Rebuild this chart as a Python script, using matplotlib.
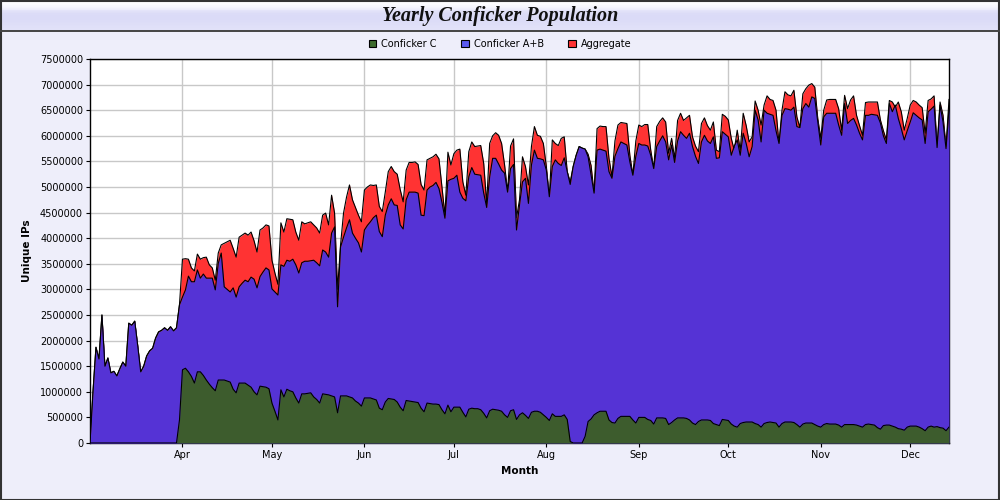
import numpy as np
import matplotlib
matplotlib.use("Agg")
import matplotlib.pyplot as plt
import matplotlib.dates as mdates
from matplotlib.patches import Patch, Rectangle
from matplotlib.ticker import MultipleLocator, FuncFormatter

# daily unique IPs (millions), starting 2009-03-01
start_date = "2009-03-01"

conficker_ab = [
    0.00, 1.00, 1.87, 1.64, 2.50, 1.50, 1.66, 1.37, 1.40, 1.31,
    1.45, 1.58, 1.50, 2.34, 2.30, 2.38, 1.90, 1.39, 1.50, 1.70,
    1.80, 1.85, 2.05, 2.17, 2.20, 2.25, 2.20, 2.27, 2.19, 2.25,
    2.70, 2.85, 2.99, 3.26, 3.15, 3.15, 3.38, 3.22, 3.30, 3.22,
    3.22, 3.22, 2.99, 3.51, 3.71, 3.05, 3.00, 2.95, 3.03, 2.85,
    3.05, 3.12, 3.18, 3.15, 3.24, 3.20, 3.03, 3.25, 3.34, 3.42,
    3.38, 3.01, 2.95, 2.89, 3.48, 3.45, 3.57, 3.55, 3.59, 3.48,
    3.32, 3.52, 3.55, 3.55, 3.56, 3.57, 3.52, 3.46, 3.77, 3.73,
    3.63, 4.10, 4.22, 2.66, 3.83, 4.02, 4.20, 4.36, 4.10, 4.00,
    3.91, 3.73, 4.16, 4.25, 4.32, 4.40, 4.45, 4.13, 4.03, 4.45,
    4.65, 4.77, 4.65, 4.64, 4.26, 4.18, 4.75, 4.90, 4.90, 4.90,
    4.88, 4.45, 4.44, 4.94, 5.00, 5.03, 5.09, 4.97, 4.70, 4.39,
    5.12, 5.15, 5.17, 5.23, 4.90, 4.78, 4.73, 5.20, 5.38, 5.25,
    5.24, 5.23, 4.88, 4.60, 5.20, 5.56, 5.56, 5.45, 5.33, 5.27,
    4.90, 5.36, 5.44, 4.16, 4.65, 5.10, 5.17, 4.68, 5.43, 5.72,
    5.56, 5.55, 5.53, 5.33, 4.81, 5.40, 5.53, 5.46, 5.42, 5.57,
    5.30, 5.05, 5.40, 5.62, 5.79, 5.76, 5.74, 5.59, 5.23, 4.88,
    5.72, 5.74, 5.72, 5.70, 5.30, 5.17, 5.60, 5.75, 5.88, 5.85,
    5.82, 5.49, 5.23, 5.60, 5.85, 5.82, 5.82, 5.80, 5.62, 5.36,
    5.79, 5.90, 6.00, 5.88, 5.53, 5.82, 5.48, 5.90, 6.08, 6.01,
    5.95, 6.05, 5.79, 5.60, 5.46, 5.88, 6.01, 5.90, 5.85, 5.98,
    5.56, 5.57, 6.08, 6.03, 5.98, 5.62, 5.80, 5.92, 5.62, 6.05,
    5.85, 5.59, 5.79, 6.50, 6.31, 5.88, 6.50, 6.44, 6.42, 6.40,
    6.10, 5.85, 6.40, 6.53, 6.52, 6.50, 6.56, 6.18, 6.16, 6.53,
    6.63, 6.56, 6.76, 6.73, 6.27, 5.82, 6.37, 6.44, 6.44, 6.44,
    6.44, 6.21, 6.01, 6.63, 6.24, 6.30, 6.34, 6.21, 6.05, 5.92,
    6.40, 6.40, 6.42, 6.41, 6.40, 6.25, 6.00, 5.85, 6.63, 6.47,
    6.60, 6.34, 6.14, 5.92, 6.10, 6.27, 6.45, 6.40, 6.35, 6.31,
    5.85, 6.47, 6.52, 6.58, 5.77, 6.60, 6.27, 5.75, 6.53,
]

aggregate = [
    0.00, 1.00, 1.87, 1.64, 2.50, 1.50, 1.66, 1.37, 1.40, 1.31,
    1.45, 1.58, 1.50, 2.34, 2.30, 2.38, 1.90, 1.39, 1.50, 1.70,
    1.80, 1.85, 2.05, 2.17, 2.20, 2.25, 2.20, 2.27, 2.19, 2.25,
    2.70, 3.59, 3.60, 3.59, 3.42, 3.36, 3.69, 3.59, 3.62, 3.63,
    3.48, 3.42, 3.18, 3.71, 3.87, 3.90, 3.93, 3.96, 3.80, 3.63,
    4.02, 4.06, 4.10, 4.06, 4.12, 3.95, 3.73, 4.16, 4.20, 4.26,
    4.24, 3.57, 3.32, 3.10, 4.30, 4.12, 4.38, 4.37, 4.36, 4.12,
    3.96, 4.32, 4.28, 4.30, 4.32, 4.26, 4.20, 4.10, 4.45, 4.49,
    4.26, 4.84, 4.49, 3.00, 3.87, 4.49, 4.80, 5.04, 4.75, 4.60,
    4.45, 4.32, 4.94, 5.00, 5.04, 5.03, 5.04, 4.62, 4.52, 4.90,
    5.30, 5.40, 5.30, 5.25, 4.95, 4.71, 5.33, 5.48, 5.48, 5.49,
    5.44, 5.05, 4.94, 5.53, 5.56, 5.59, 5.64, 5.55, 5.00, 4.45,
    5.68, 5.43, 5.65, 5.72, 5.74, 5.10, 4.84, 5.69, 5.88, 5.79,
    5.80, 5.81, 5.46, 4.68, 5.85, 6.00, 6.06, 6.01, 5.85, 5.43,
    4.91, 5.80, 5.94, 4.40, 4.75, 5.59, 5.40, 5.04, 5.79, 6.18,
    6.01, 5.99, 5.85, 5.40, 4.81, 5.92, 5.85, 5.81, 5.95, 5.98,
    5.30, 5.10, 5.40, 5.62, 5.79, 5.76, 5.74, 5.64, 5.42, 4.88,
    6.14, 6.19, 6.18, 6.18, 5.56, 5.20, 5.90, 6.21, 6.26, 6.25,
    6.24, 5.62, 5.23, 5.90, 6.21, 6.18, 6.22, 6.22, 5.72, 5.36,
    6.18, 6.28, 6.35, 6.27, 5.66, 5.95, 5.56, 6.30, 6.44, 6.30,
    6.35, 6.40, 5.98, 5.80, 5.69, 6.24, 6.35, 6.20, 6.11, 6.27,
    5.72, 5.69, 6.42, 6.38, 6.31, 5.95, 5.72, 6.11, 5.72, 6.44,
    6.20, 5.88, 5.98, 6.68, 6.50, 6.21, 6.60, 6.78, 6.71, 6.69,
    6.50, 5.85, 6.50, 6.86, 6.80, 6.78, 6.89, 6.37, 6.16, 6.82,
    6.92, 6.99, 7.02, 6.95, 6.34, 5.95, 6.50, 6.70, 6.71, 6.71,
    6.71, 6.53, 6.11, 6.79, 6.53, 6.70, 6.78, 6.40, 6.20, 6.01,
    6.65, 6.66, 6.66, 6.66, 6.66, 6.31, 6.10, 5.92, 6.69, 6.66,
    6.56, 6.66, 6.47, 6.11, 6.34, 6.60, 6.69, 6.66, 6.60, 6.55,
    6.05, 6.69, 6.72, 6.78, 5.79, 6.66, 6.40, 5.79, 6.71,
]

conficker_c = [0.0] * 30 + [
    0.45, 1.43, 1.46, 1.39, 1.30, 1.17, 1.39, 1.39, 1.32, 1.23,
    1.15, 1.08, 1.02, 1.23, 1.23, 1.23, 1.21, 1.19, 1.05, 0.98,
    1.17, 1.17, 1.17, 1.13, 1.09, 1.00, 0.94, 1.11, 1.10, 1.09,
    1.06, 0.78, 0.62, 0.45, 1.04, 0.90, 1.05, 1.02, 1.00, 0.88,
    0.78, 0.96, 0.96, 0.97, 0.98, 0.90, 0.85, 0.78, 0.96, 0.95,
    0.94, 0.92, 0.90, 0.59, 0.92, 0.92, 0.92, 0.90, 0.88, 0.82,
    0.78, 0.72, 0.88, 0.88, 0.88, 0.86, 0.84, 0.68, 0.65, 0.80,
    0.87, 0.86, 0.85, 0.80, 0.70, 0.63, 0.83, 0.82, 0.81, 0.80,
    0.79, 0.68, 0.61, 0.78, 0.77, 0.76, 0.76, 0.75, 0.65, 0.57,
    0.74, 0.61, 0.70, 0.70, 0.70, 0.60, 0.51, 0.66, 0.68, 0.67,
    0.67, 0.65, 0.58, 0.49, 0.63, 0.66, 0.65, 0.64, 0.62, 0.55,
    0.50, 0.63, 0.65, 0.46, 0.55, 0.59, 0.54, 0.48, 0.60, 0.62,
    0.62, 0.60, 0.55, 0.50, 0.44, 0.57, 0.52, 0.52, 0.52, 0.55,
    0.46, 0.03, 0.00, 0.00, 0.00, 0.00, 0.13, 0.42, 0.47, 0.55,
    0.59, 0.62, 0.62, 0.62, 0.45, 0.40, 0.39, 0.48, 0.52, 0.52,
    0.52, 0.52, 0.45, 0.39, 0.50, 0.50, 0.50, 0.46, 0.44, 0.37,
    0.49, 0.49, 0.49, 0.48, 0.36, 0.40, 0.45, 0.49, 0.49, 0.49,
    0.48, 0.45, 0.39, 0.36, 0.42, 0.45, 0.45, 0.45, 0.44, 0.38,
    0.36, 0.34, 0.46, 0.45, 0.44, 0.37, 0.33, 0.31, 0.38, 0.40,
    0.41, 0.41, 0.41, 0.38, 0.36, 0.31, 0.38, 0.40, 0.41, 0.40,
    0.39, 0.31, 0.38, 0.41, 0.41, 0.41, 0.40, 0.36, 0.31, 0.37,
    0.39, 0.39, 0.39, 0.36, 0.33, 0.31, 0.36, 0.38, 0.37, 0.37,
    0.37, 0.35, 0.31, 0.36, 0.36, 0.36, 0.36, 0.35, 0.33, 0.31,
    0.36, 0.37, 0.36, 0.35, 0.30, 0.27, 0.34, 0.35, 0.35, 0.33,
    0.31, 0.28, 0.27, 0.25, 0.31, 0.33, 0.33, 0.33, 0.31, 0.28,
    0.24, 0.31, 0.33, 0.31, 0.32, 0.30, 0.29, 0.24, 0.31,
]

series_names = ["Conficker C", "Conficker A+B", "Aggregate"]
series_colors = ["#3d5c2d", "#5533d5", "#ff3333"]
legend_colors = ["#3d6b2d", "#5a5af0", "#ff3333"]

dates = np.datetime64(start_date) + np.arange(len(conficker_ab))
ab = np.array(conficker_ab) * 1e6
agg = np.array(aggregate) * 1e6
cc = np.array(conficker_c) * 1e6

bg = "#eeeefa"
fig = plt.figure(figsize=(10, 5), dpi=100, facecolor=bg)

# title bar: light top, lavender band below
bar = fig.add_axes([0, 0.94, 1, 0.06])
grad = np.array([1.0, 0.95, 0.88, 0.75, 0.50, 0.42, 0.40, 0.40, 0.42, 0.45, 0.48, 0.50])
cmap = matplotlib.colors.LinearSegmentedColormap.from_list("bar", ["#c4c4f2", "#ffffff"])
bar.imshow(grad.reshape(-1, 1), aspect="auto", cmap=cmap, vmin=0.0, vmax=1.0, extent=[0, 1, 0, 1])
bar.set_axis_off()
bar.text(0.5, 0.45, "Yearly Conficker Population", ha="center", va="center",
         fontsize=14.5, fontweight="bold", fontstyle="italic", family="Liberation Serif",
         color="#111111")
fig.add_artist(plt.Line2D([0, 1], [0.939, 0.939], color="#444444", lw=1.4))
fig.add_artist(Rectangle((0.001, 0.001), 0.998, 0.998, fill=False, ec="#333333", lw=1.5,
                         transform=fig.transFigure))

ax = fig.add_axes([0.090, 0.114, 0.859, 0.768])
ax.set_facecolor("white")

layers = [(agg, series_colors[2], 1), (ab, series_colors[1], 3), (cc, series_colors[0], 5)]
for vals, col, z in layers:
    ax.fill_between(dates, 0, vals, color=col, lw=0, zorder=z)
    ax.plot(dates, vals, color="black", lw=0.8, zorder=z + 0.5)

ax.set_xlim(dates[0], dates[-1])
ax.set_ylim(0, 7500000)
ax.yaxis.set_major_locator(MultipleLocator(500000))
ax.yaxis.set_major_formatter(FuncFormatter(lambda v, p: "%d" % v))
ax.xaxis.set_major_locator(mdates.MonthLocator(bymonth=range(4, 13)))
ax.xaxis.set_major_formatter(mdates.DateFormatter("%b"))
ax.grid(True, color="#c8c8c8", lw=1.0, zorder=0)
ax.set_axisbelow(True)
ax.tick_params(labelsize=7, length=3, color="black", pad=2)
for sp in ax.spines.values():
    sp.set_color("black")
    sp.set_linewidth(1.0)

ax.set_xlabel("Month", fontsize=7.5, fontweight="bold", labelpad=4)
ax.set_ylabel("Unique IPs", fontsize=7.5, fontweight="bold", labelpad=6)

handles = [Patch(facecolor=c, edgecolor="black", lw=0.8) for c in legend_colors]
fig.legend(handles, series_names, loc="center", bbox_to_anchor=(0.5, 0.912), ncol=3,
           frameon=False, fontsize=7, handlelength=0.8, handleheight=0.8,
           handletextpad=0.5, columnspacing=2.5)

fig.savefig("out.png", dpi=100, facecolor=bg)
